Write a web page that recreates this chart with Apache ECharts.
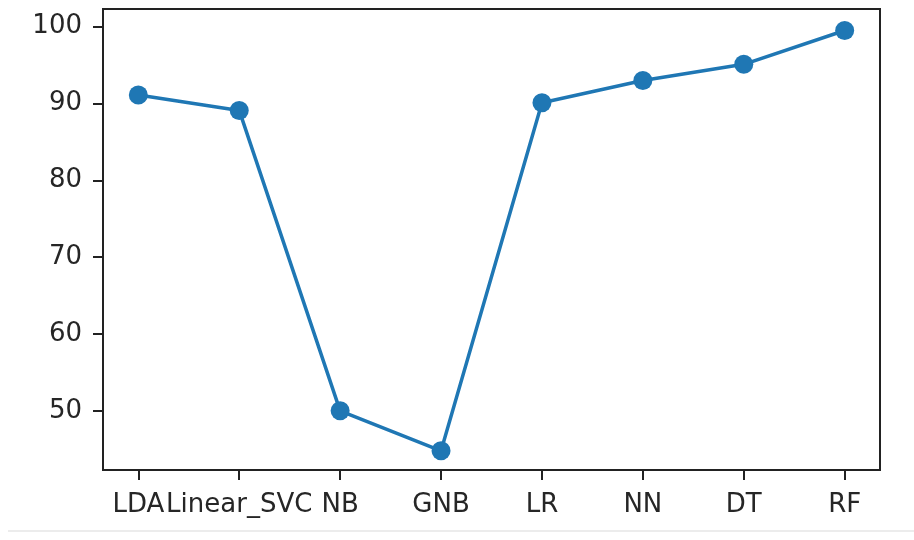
<!DOCTYPE html>
<html>
<head>
<meta charset="utf-8">
<script src="https://cdn.jsdelivr.net/npm/echarts@6/dist/echarts.min.js"></script>
<style>
html,body{margin:0;padding:0;background:#fff;}
#chart{width:914px;height:540px;}
</style>
</head>
<body>
<div id="chart"></div>
<script>
const categories = ['LDA', 'Linear_SVC', 'NB', 'GNB', 'LR', 'NN', 'DT', 'RF'];
const accuracy = [91.1, 89.1, 50.0, 44.8, 90.1, 93.0, 95.1, 99.5];
const yTicks = [50, 60, 70, 80, 90, 100];

const chart = echarts.init(document.getElementById('chart'), null, {renderer: 'canvas'});
const textColor = '#262626';
const font = 'DejaVu Sans';
const option = {
  animation: false,
  backgroundColor: '#ffffff',
  grid: {
    left: 103, right: 34, top: 9, bottom: 70,
    show: true, borderColor: '#222', borderWidth: 2, backgroundColor: 'transparent'
  },
  xAxis: {
    type: 'value',
    min: -0.35,
    max: 7.35,
    splitLine: {show: false},
    axisLine: {show: true, onZero: false, lineStyle: {color: '#222', width: 2}},
    axisTick: {show: true, length: 10, lineStyle: {color: '#222', width: 2},
      customValues: categories.map((c, i) => i)},
    axisLabel: {
      customValues: categories.map((c, i) => i),
      formatter: v => categories[Math.round(v)],
      color: textColor, fontFamily: font, fontSize: 26, margin: 22
    }
  },
  yAxis: {
    type: 'value',
    min: 42.3,
    max: 102.3,
    splitLine: {show: false},
    axisLine: {show: true, onZero: false, lineStyle: {color: '#222', width: 2}},
    axisTick: {show: true, length: 10, lineStyle: {color: '#222', width: 2},
      customValues: yTicks},
    axisLabel: {
      customValues: yTicks,
      color: textColor, fontFamily: font, fontSize: 26, margin: 21,
      padding: [6, 0, 0, 0]
    }
  },
  series: [{
    type: 'line',
    data: accuracy.map((v, i) => [i, v]),
    symbol: 'circle',
    symbolSize: 19,
    lineStyle: {color: '#1f77b4', width: 3.5},
    itemStyle: {color: '#1f77b4'},
    z: 3
  }],
  graphic: [{
    type: 'line',
    shape: {x1: 8, y1: 531, x2: 914, y2: 531},
    style: {stroke: '#ececec', lineWidth: 2},
    silent: true
  }]
};
chart.setOption(option);
</script>
</body>
</html>
